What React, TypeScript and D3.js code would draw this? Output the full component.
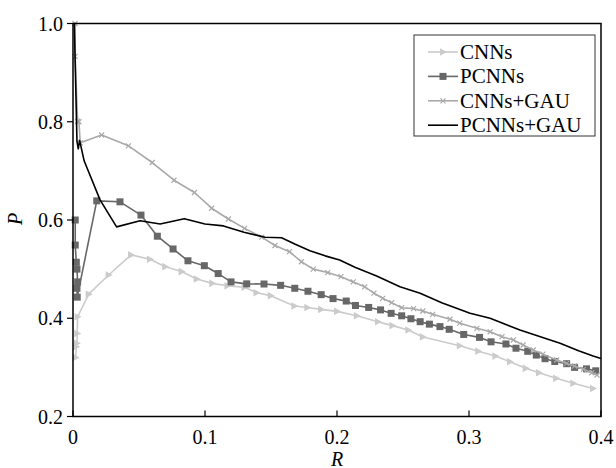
import React from "react";
import * as d3 from "d3";

const xTicks = [0, 0.1, 0.2, 0.3, 0.4];
const yTicks = [0.2, 0.4, 0.6, 0.8, 1.0];

const cnnsR = [0.002, 0.0025, 0.003, 0.0032, 0.0035, 0.0119, 0.027, 0.044, 0.0583, 0.0699, 0.0823, 0.0937, 0.1055, 0.117, 0.13, 0.139, 0.1498, 0.1677, 0.1775, 0.188, 0.2, 0.215, 0.231, 0.242, 0.254, 0.265, 0.293, 0.307, 0.32, 0.331, 0.343, 0.353, 0.366, 0.379, 0.394];
const cnnsP = [0.32, 0.342, 0.349, 0.369, 0.403, 0.449, 0.488, 0.529, 0.52, 0.505, 0.495, 0.48, 0.471, 0.466, 0.463, 0.452, 0.446, 0.425, 0.422, 0.418, 0.414, 0.405, 0.393, 0.385, 0.376, 0.362, 0.344, 0.333, 0.323, 0.3115, 0.298, 0.289, 0.278, 0.2676, 0.257];

const pcnnsR = [0.0017, 0.0017, 0.0025, 0.003, 0.0035, 0.003, 0.0032, 0.018, 0.0356, 0.0515, 0.0639, 0.0758, 0.0871, 0.0995, 0.11, 0.1197, 0.1316, 0.1447, 0.1573, 0.168, 0.178, 0.188, 0.197, 0.207, 0.214, 0.224, 0.233, 0.241, 0.249, 0.256, 0.263, 0.27, 0.278, 0.285, 0.296, 0.308, 0.3167, 0.328, 0.3356, 0.3445, 0.351, 0.3576, 0.365, 0.374, 0.38, 0.389, 0.396];
const pcnnsP = [0.6, 0.549, 0.514, 0.5, 0.474, 0.461, 0.443, 0.639, 0.637, 0.61, 0.567, 0.541, 0.517, 0.507, 0.491, 0.474, 0.47, 0.4697, 0.467, 0.461, 0.455, 0.448, 0.44, 0.435, 0.426, 0.422, 0.417, 0.41, 0.405, 0.399, 0.393, 0.388, 0.383, 0.3775, 0.367, 0.361, 0.352, 0.3476, 0.339, 0.3327, 0.325, 0.3177, 0.312, 0.3075, 0.3, 0.297, 0.293];

const cgR = [0.0015, 0.0016, 0.0035, 0.0045, 0.0055, 0.0217, 0.042, 0.06, 0.0765, 0.092, 0.105, 0.1177, 0.13, 0.143, 0.153, 0.164, 0.173, 0.182, 0.193, 0.203, 0.2123, 0.221, 0.228, 0.2346, 0.2414, 0.249, 0.258, 0.265, 0.2725, 0.2856, 0.293, 0.306, 0.316, 0.325, 0.3336, 0.341, 0.3487, 0.356, 0.3664, 0.374, 0.38, 0.3866, 0.393, 0.397];
const cgP = [1.0, 0.933, 0.801, 0.8, 0.757, 0.773, 0.751, 0.717, 0.681, 0.656, 0.624, 0.602, 0.583, 0.565, 0.548, 0.5355, 0.515, 0.5, 0.493, 0.4846, 0.474, 0.464, 0.451, 0.4406, 0.4317, 0.4215, 0.4195, 0.4148, 0.408, 0.398, 0.39, 0.3795, 0.3726, 0.3625, 0.3557, 0.3455, 0.3354, 0.327, 0.315, 0.308, 0.3028, 0.296, 0.289, 0.2845];

const pgR = [0.001, 0.003, 0.004, 0.005, 0.0085, 0.0205, 0.033, 0.0508, 0.066, 0.0843, 0.1, 0.114, 0.1295, 0.1455, 0.158, 0.168, 0.1795, 0.191, 0.202, 0.2136, 0.23, 0.2477, 0.263, 0.2793, 0.3008, 0.316, 0.3386, 0.369, 0.383, 0.394, 0.4];
const pgP = [1.0, 0.76, 0.745, 0.762, 0.72, 0.641, 0.586, 0.5986, 0.592, 0.6027, 0.592, 0.588, 0.575, 0.565, 0.564, 0.551, 0.5375, 0.527, 0.5186, 0.5037, 0.486, 0.464, 0.451, 0.4317, 0.41, 0.4, 0.376, 0.349, 0.334, 0.323, 0.318];

const seriesNames = ["CNNs", "PCNNs", "CNNs+GAU", "PCNNs+GAU"];

const FONT = "Liberation Serif";

export default function App() {
  const W = 616, H = 468;
  const x = d3.scaleLinear().domain([0, 0.4]).range([73, 601]);
  const y = d3.scaleLinear().domain([0.2, 1.0]).range([416.5, 23.5]);
  const line = d3.line<[number, number]>().x(d => x(d[0])).y(d => y(d[1]));
  const zip = (a: number[], b: number[]) => a.map((v, i) => [v, b[i]] as [number, number]);

  const series = [
    { name: seriesNames[0], data: zip(cnnsR, cnnsP), color: "#cbcbcb", marker: "tri" },
    { name: seriesNames[1], data: zip(pcnnsR, pcnnsP), color: "#676767", marker: "sq" },
    { name: seriesNames[2], data: zip(cgR, cgP), color: "#a9a9a9", marker: "x" },
    { name: seriesNames[3], data: zip(pgR, pgP), color: "#000000", marker: "none" },
  ];

  const marker = (type: string, cx: number, cy: number, color: string, key: any) => {
    if (type === "sq") return <rect key={key} x={cx - 3.5} y={cy - 3.5} width={7} height={7} fill={color} />;
    if (type === "tri") return <path key={key} d={`M${cx + 4},${cy} L${cx - 3},${cy - 3.8} L${cx - 3},${cy + 3.8} Z`} fill={color} />;
    if (type === "x") return <path key={key} d={`M${cx - 2.5},${cy - 2.5} L${cx + 2.5},${cy + 2.5} M${cx - 2.5},${cy + 2.5} L${cx + 2.5},${cy - 2.5}`} stroke={color} strokeWidth={1.2} />;
    return null;
  };

  const legendY = (i: number) => 52 + i * 24.4;
  const ts = { fontFamily: FONT } as React.CSSProperties;

  return (
    <svg width={W} height={H} style={{ position: "absolute", left: 0, top: 0, background: "#fff", fontFamily: FONT }}>
      <rect x={0} y={0} width={W} height={H} fill="#fff" />
      {series.map((s, si) => (
        <g key={si}>
          <path d={line(s.data) || ""} fill="none" stroke={s.color} strokeWidth={1.6} strokeLinejoin="round" />
          {s.data.map((d, i) => marker(s.marker, x(d[0]), y(d[1]), s.color, i))}
        </g>
      ))}
      <rect x={73} y={23.5} width={528} height={393} fill="none" stroke="#000" strokeWidth={1.5} />
      {xTicks.map((t, i) => (
        <g key={i}>
          <line x1={x(t)} x2={x(t)} y1={416.5} y2={410.5} stroke="#000" strokeWidth={1.2} />
          <text style={ts} x={x(t)} y={443.5} fontSize={20} textAnchor="middle">{t === 0 ? "0" : t.toFixed(1)}</text>
        </g>
      ))}
      {yTicks.map((t, i) => (
        <g key={i}>
          <line x1={67} x2={73} y1={y(t)} y2={y(t)} stroke="#000" strokeWidth={1.2} />
          <text style={ts} x={63} y={y(t) + 7} fontSize={20} textAnchor="end">{t.toFixed(1)}</text>
        </g>
      ))}
      <text style={ts} x={337} y={465.5} fontSize={20} fontStyle="italic" textAnchor="middle">R</text>
      <text style={ts} transform={`translate(22,219) rotate(-90)`} fontSize={20} fontStyle="italic" textAnchor="middle">P</text>
      <rect x={414} y={35} width={181} height={101} fill="#fff" stroke="#333" strokeWidth={1} />
      {series.map((s, i) => (
        <g key={i}>
          <line x1={428} x2={458} y1={legendY(i)} y2={legendY(i)} stroke={s.color} strokeWidth={1.6} />
          {marker(s.marker, 443, legendY(i), s.color, "m")}
          <text style={ts} x={460} y={legendY(i) + 7} fontSize={21}>{s.name}</text>
        </g>
      ))}
    </svg>
  );
}
